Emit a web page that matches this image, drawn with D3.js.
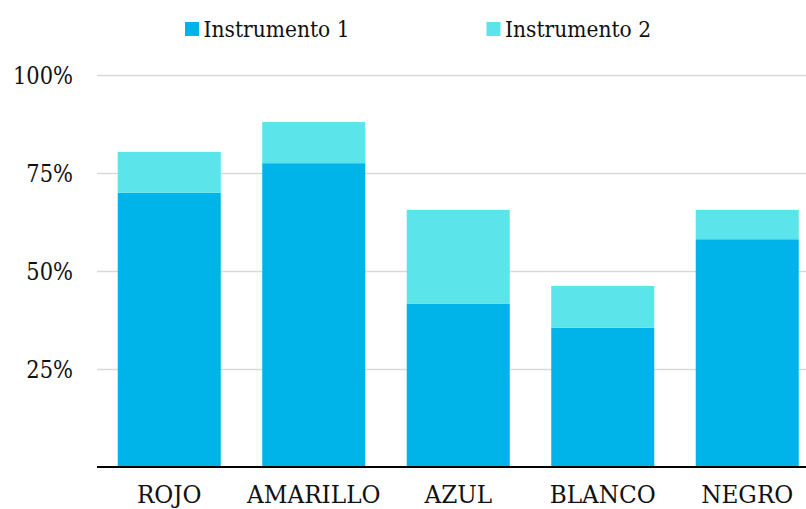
<!DOCTYPE html>
<html>
<head>
<meta charset="utf-8">
<script src="https://cdn.jsdelivr.net/npm/d3@7"></script>
<style>
  html, body { margin: 0; padding: 0; background: #fff; }
  svg { display: block; }
</style>
</head>
<body>
<svg id="chart" width="806" height="509"></svg>
<script>
// Colour categories and the share of each instrument (percent)
const categories = ["ROJO", "AMARILLO", "AZUL", "BLANCO", "NEGRO"];
const instrumento1 = [70.0, 77.5, 41.6, 35.5, 58.1];
const instrumento2 = [10.4, 10.5, 24.0, 10.7, 7.5];
const seriesNames = ["Instrumento 1", "Instrumento 2"];
const seriesColors = ["#00B4EA", "#5BE5EA"];
const yTicks = [25, 50, 75, 100];

const svg = d3.select("#chart");
const W = 806;
const left = 97, base = 467, top100 = 75;
const serif = '"DejaVu Serif", serif';

// Narrow a text selection horizontally by a factor (condensed serif look)
function condense(sel, k) {
  sel.each(function () {
    const w = this.getComputedTextLength();
    d3.select(this)
      .attr("textLength", w * k)
      .attr("lengthAdjust", "spacingAndGlyphs");
  });
}

const rows = categories.map((c, i) => ({
  cat: c,
  "Instrumento 1": instrumento1[i],
  "Instrumento 2": instrumento2[i]
}));

const x = d3.scaleBand()
  .domain(categories)
  .range([left, 819.5])
  .paddingInner(0.287)
  .paddingOuter(0.1435);

const y = d3.scaleLinear().domain([0, 100]).range([base, top100]);

// Gridlines with percent labels
const yAxis = d3.axisLeft(y)
  .tickValues(yTicks)
  .tickFormat(d => d + "%")
  .tickSize(-(W - left))
  .tickPadding(24);

const gy = svg.append("g")
  .attr("transform", `translate(${left},0)`)
  .call(yAxis)
  .attr("font-family", serif)
  .attr("font-size", 24);
gy.select(".domain").remove();
gy.selectAll(".tick line").attr("stroke", "#d9d9d9").attr("stroke-width", 1.5);
gy.selectAll(".tick text").attr("fill", "#111").attr("dy", "0.35em").call(condense, 0.875);

// Stacked bars
const stack = d3.stack().keys(seriesNames)(rows);
const color = d3.scaleOrdinal().domain(seriesNames).range(seriesColors);

svg.append("g")
  .selectAll("g")
  .data(stack)
  .join("g")
  .attr("fill", d => color(d.key))
  .selectAll("rect")
  .data(d => d)
  .join("rect")
  .attr("x", d => x(d.data.cat))
  .attr("width", x.bandwidth())
  .attr("y", d => y(d[1]))
  .attr("height", d => y(d[0]) - y(d[1]));

// Category axis with a black baseline
const xAxis = d3.axisBottom(x).tickSize(0).tickPadding(19);
const gx = svg.append("g")
  .attr("transform", `translate(0,${base})`)
  .call(xAxis)
  .attr("font-family", serif)
  .attr("font-size", 24);
gx.select(".domain").remove();
gx.selectAll(".tick text").attr("fill", "#111").call(condense, 0.965);

svg.append("line")
  .attr("x1", left).attr("x2", W)
  .attr("y1", base).attr("y2", base)
  .attr("stroke", "#000").attr("stroke-width", 2);

// Legend
const legendX = [185, 486.5];
const legend = svg.append("g").attr("font-family", serif).attr("font-size", 23);
seriesNames.forEach((name, i) => {
  const g = legend.append("g").attr("transform", `translate(${legendX[i]},0)`);
  g.append("rect")
    .attr("x", 0).attr("y", 22)
    .attr("width", 14).attr("height", 14)
    .attr("fill", seriesColors[i]);
  g.append("text")
    .attr("x", 18.5).attr("y", 36.5)
    .attr("fill", "#111")
    .text(name)
    .call(condense, 0.88);
});
</script>
</body>
</html>
